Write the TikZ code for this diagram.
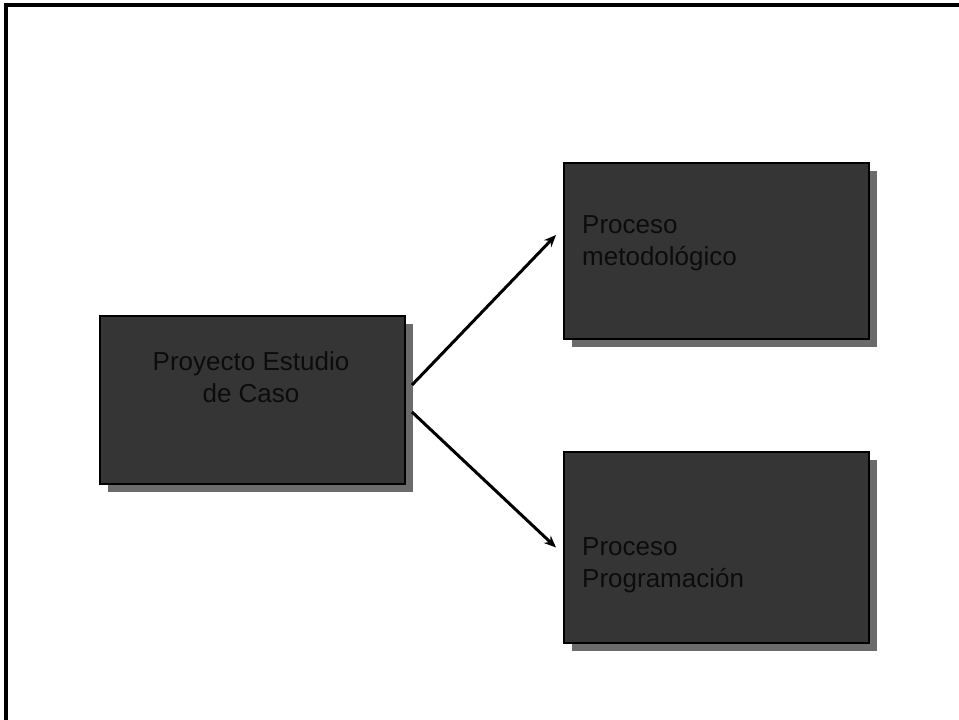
\documentclass[tikz,border=0pt]{standalone}
\usepackage{fontspec}
\setmainfont{Liberation Sans}
\usetikzlibrary{arrows.meta,calc}
\definecolor{boxfill}{HTML}{353535}
\definecolor{shadowgray}{HTML}{6B6B6B}
\definecolor{txtdark}{HTML}{0C0C0C}
\begin{document}
\begin{tikzpicture}[x=1pt,y=-1pt,
  procbox/.style={draw=black,line width=1.6pt,fill=boxfill,inner sep=0pt,outer sep=0pt,
    minimum width=305pt,anchor=north west},
  boxtext/.style={text=txtdark,inner sep=0pt,font=\fontsize{26}{32}\selectfont},
  conn/.style={line width=3pt,-{Stealth[length=12pt,width=10pt]}},
  frameline/.style={line width=4pt}]
\useasboundingbox (0,0) rectangle (959,720);
% frame
\coordinate (fbl) at (5.5,720);
\coordinate (ftl) at (5.5,4.5);
\coordinate (ftr) at (959,4.5);
\draw[frameline] (fbl) -- (ftl) -- (ftr);
% shadows
\fill[shadowgray] (108,324) rectangle (413,492);
\fill[shadowgray] (572,171) rectangle (877,347);
\fill[shadowgray] (572,460) rectangle (877,651);
% boxes
\node[procbox,minimum height=168pt] (b1) at (100,316) {};
\node[procbox,minimum height=176pt] (b2) at (564,163) {};
\node[procbox,minimum height=191pt] (b3) at (564,452) {};
% texts
\node[boxtext,anchor=base] (t1a) at (251,370) {Proyecto Estudio};
\node[boxtext,anchor=base] (t1b) at (251,402) {de Caso};
\node[boxtext,anchor=base west] (t2a) at (582,233) {Proceso};
\node[boxtext,anchor=base west] (t2b) at (582,265) {metodológico};
\node[boxtext,anchor=base west] (t3a) at (582,555) {Proceso};
\node[boxtext,anchor=base west] (t3b) at (582,587) {Programación};
% connectors
\draw[conn] ($(b1.east)+(7,-15)$) -- ($(b2.west)+(-8,-16)$);
\draw[conn] ($(b1.east)+(7,12)$) -- ($(b3.west)+(-8,0)$);
\end{tikzpicture}
\end{document}
